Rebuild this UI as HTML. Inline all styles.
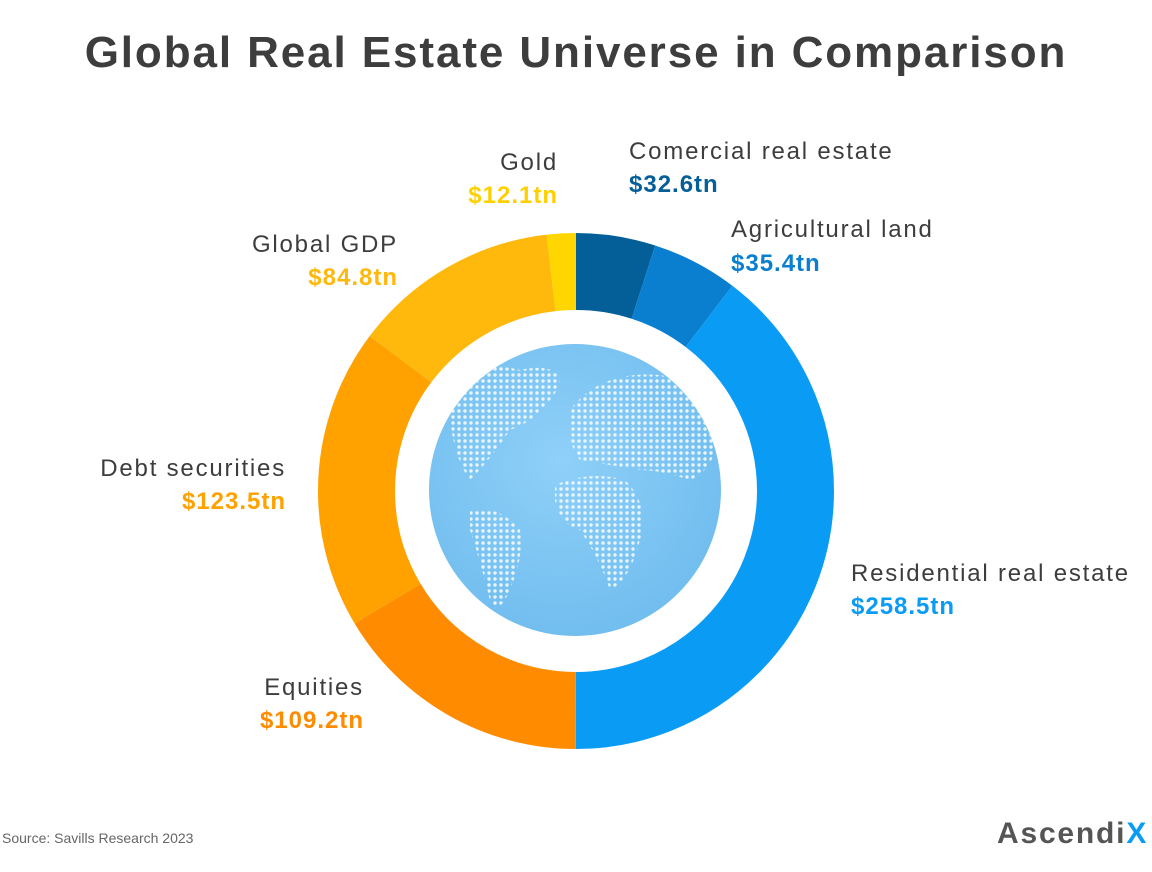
<!DOCTYPE html>
<html><head><meta charset="utf-8"><style>
body{margin:0;background:#fff;width:1152px;height:867px;overflow:hidden;font-family:"Liberation Sans",sans-serif}
</style></head><body>
<svg width="1152" height="867" viewBox="0 0 1152 867" xmlns="http://www.w3.org/2000/svg" font-family="Liberation Sans, sans-serif">
<defs>
<radialGradient id="g" cx="0.45" cy="0.4" r="0.65">
<stop offset="0" stop-color="#8fd0f8"/><stop offset="1" stop-color="#6fbcee"/></radialGradient>
<pattern id="dots" width="6" height="6" patternUnits="userSpaceOnUse"><circle cx="3" cy="3" r="1.7" fill="#e8f5fd"/></pattern>
<clipPath id="gc"><circle cx="575" cy="490" r="146"/></clipPath>
</defs>
<text x="576" y="67" text-anchor="middle" font-size="44" font-weight="bold" fill="#3d3d3d" letter-spacing="1.9">Global Real Estate Universe in Comparison</text>
<g transform="rotate(-90 576 491)" fill="none" stroke-width="77">
<circle cx="576" cy="491" r="219.5" stroke="#045f98" stroke-dasharray="68.5 1400" stroke-dashoffset="0"/>
<circle cx="576" cy="491" r="219.5" stroke="#0a7fd0" stroke-dasharray="74.4 1400" stroke-dashoffset="-68.5"/>
<circle cx="576" cy="491" r="219.5" stroke="#0a9cf5" stroke-dasharray="546.7 1400" stroke-dashoffset="-142.9"/>
<circle cx="576" cy="491" r="219.5" stroke="#ff8c00" stroke-dasharray="226.3 1400" stroke-dashoffset="-689.6"/>
<circle cx="576" cy="491" r="219.5" stroke="#ffa200" stroke-dasharray="259.6 1400" stroke-dashoffset="-915.9"/>
<circle cx="576" cy="491" r="219.5" stroke="#ffb80c" stroke-dasharray="178.3 1400" stroke-dashoffset="-1175.5"/>
<circle cx="576" cy="491" r="219.5" stroke="#ffd600" stroke-dasharray="25.6 1400" stroke-dashoffset="-1353.8"/>
</g>
<circle cx="575" cy="490" r="146" fill="url(#g)"/>
<g clip-path="url(#gc)" fill="url(#dots)">
<path d="M450 375 Q480 360 520 370 Q560 362 560 385 Q540 420 510 430 Q490 460 470 480 Q455 460 450 420 Z"/>
<path d="M470 510 Q500 505 520 530 Q525 560 505 600 Q495 615 490 600 Q480 560 470 530 Z"/>
<path d="M555 485 Q590 470 625 480 Q650 505 640 540 Q630 580 610 590 Q600 560 580 530 Q560 525 555 500 Z"/>
<path d="M570 410 Q600 370 660 375 Q710 385 720 430 Q715 470 690 480 Q660 470 640 470 Q610 465 580 460 Q565 440 570 410 Z"/>
</g>
<g font-size="24" fill="#3d3d3d" letter-spacing="1.8">
<text x="558" y="170" text-anchor="end">Gold</text>
<text x="558" y="203" text-anchor="end" font-weight="bold" fill="#ffd000" letter-spacing="1">$12.1tn</text>
<text x="629" y="159">Comercial real estate</text>
<text x="629" y="192" font-weight="bold" fill="#045f98" letter-spacing="1">$32.6tn</text>
<text x="731" y="237">Agricultural land</text>
<text x="731" y="271" font-weight="bold" fill="#0a7fd0" letter-spacing="1">$35.4tn</text>
<text x="398" y="252" text-anchor="end">Global GDP</text>
<text x="398" y="285" text-anchor="end" font-weight="bold" fill="#ffb80c" letter-spacing="1">$84.8tn</text>
<text x="286" y="476" text-anchor="end">Debt securities</text>
<text x="286" y="509" text-anchor="end" font-weight="bold" fill="#ffa200" letter-spacing="1">$123.5tn</text>
<text x="364" y="695" text-anchor="end">Equities</text>
<text x="364" y="728" text-anchor="end" font-weight="bold" fill="#ff8c00" letter-spacing="1">$109.2tn</text>
<text x="851" y="581">Residential real estate</text>
<text x="851" y="614" font-weight="bold" fill="#0a9cf5" letter-spacing="1">$258.5tn</text>
</g>
<text x="2" y="843" font-size="14" fill="#666">Source:  Savills Research 2023</text>
<text x="997" y="843" font-size="30" font-weight="bold" fill="#555" letter-spacing="1.8">Ascendi<tspan fill="#0a9cf5">X</tspan></text>
</svg>
</body></html>
